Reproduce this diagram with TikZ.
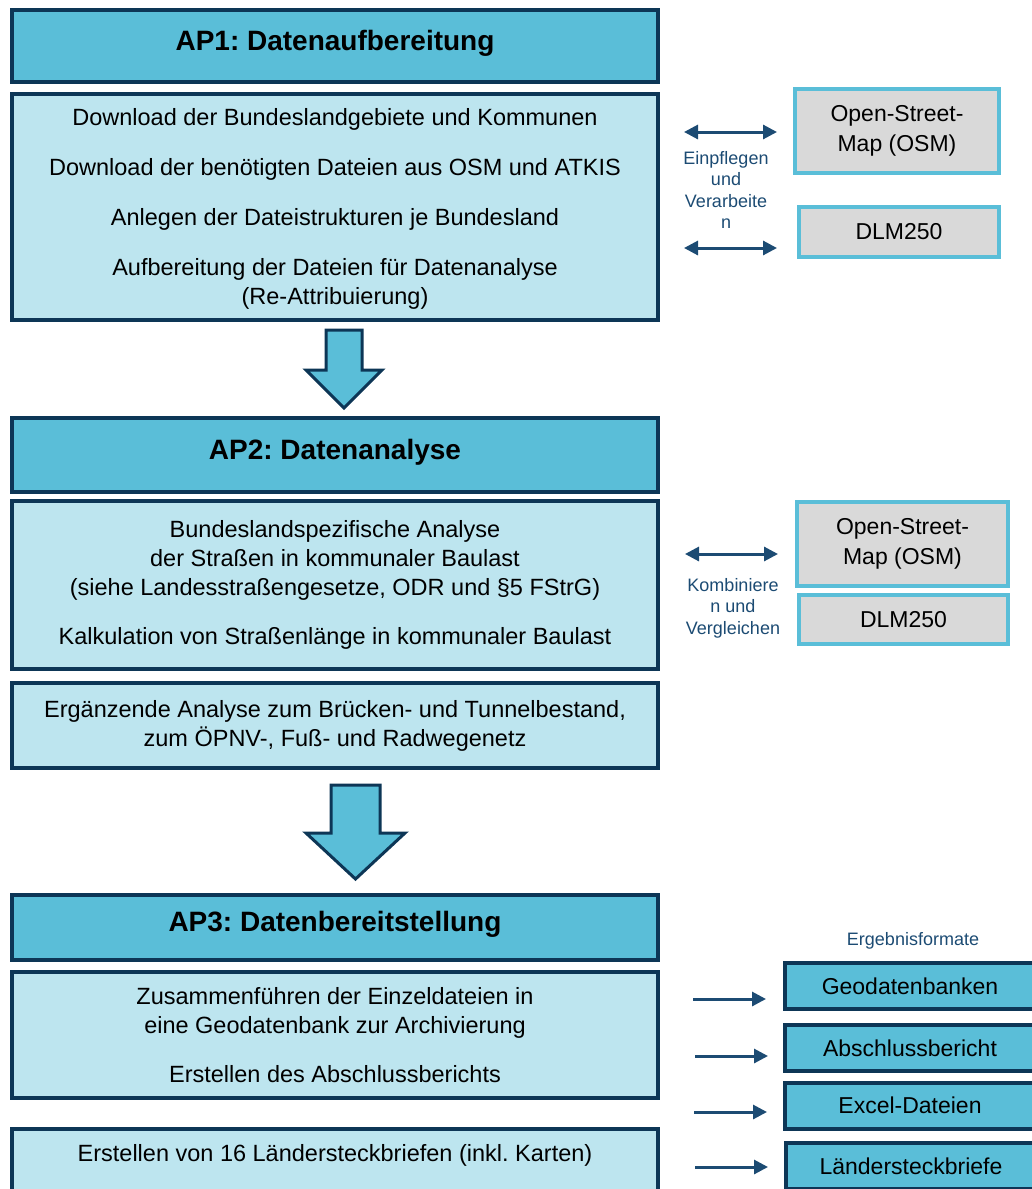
\documentclass[tikz,border=0pt]{standalone}
\usepackage{fontspec}
\setmainfont{Liberation Sans}
\usetikzlibrary{arrows.meta}
\definecolor{navy}{HTML}{0D3656}
\definecolor{pfeilblau}{HTML}{1C4B73}
\definecolor{tuerkis}{HTML}{5ABED8}
\definecolor{hellblau}{HTML}{BDE5EF}
\definecolor{grau}{HTML}{D9D9D9}
\frenchspacing
\tikzset{
  kopf/.style={draw=navy, line width=4pt, fill=tuerkis, inner sep=0pt, minimum width=646pt,
    text height=20pt, text depth=12pt, font=\bfseries\fontsize{28}{34}\selectfont},
  inhalt/.style={draw=navy, line width=4pt, fill=hellblau, inner sep=0pt, minimum width=646pt,
    align=center, font=\fontsize{23.5}{29}\selectfont},
  quelle/.style={draw=tuerkis, line width=4pt, fill=grau, inner sep=0pt, align=center,
    font=\fontsize{23}{30}\selectfont},
  format/.style={draw=navy, line width=4pt, fill=tuerkis, inner sep=0pt, minimum width=250pt,
    minimum height=46pt, font=\fontsize{23}{28}\selectfont},
  hinweis/.style={text=pfeilblau, align=center, font=\fontsize{18}{21.5}\selectfont},
  doppel/.style={{Triangle[length=14pt,width=14pt]}-{Triangle[length=14pt,width=14pt]},
    line width=3pt, draw=pfeilblau},
  einfach/.style={-{Triangle[length=14pt,width=14pt]}, line width=3pt, draw=pfeilblau},
  grosspfeil/.style={fill=tuerkis, draw=navy, line width=3pt, line join=miter},
}
\begin{document}
\begin{tikzpicture}[x=1pt, y=-1pt]
    \useasboundingbox (0, 0) rectangle (1032, 1189) ;
    \clip (0, 0) rectangle (1032, 1189) ;
  %--- AP1
    \node[kopf, minimum height=72pt] (ap1) at (335, 46) {AP1: Datenaufbereitung} ;
    \node[inhalt, minimum height=226pt] (ap1text) at (335, 207)
      {\rule{0pt}{21pt}Download der Bundeslandgebiete und Kommunen\\[21pt]
       Download der benötigten Dateien aus OSM und ATKIS\\[21pt]
       Anlegen der Dateistrukturen je Bundesland\\[21pt]
       Aufbereitung der Dateien für Datenanalyse\\
       (Re-Attribuierung)} ;
    \node[quelle, minimum width=204pt, minimum height=84pt] (osm1) at (897, 131)
      {Open-Street-\\Map (OSM)} ;
    \node[quelle, minimum width=200pt, minimum height=50pt] (dlm1) at (899, 232) {DLM250} ;
    \node[hinweis] (einpflegen) at (726, 190) {Einpflegen\\und\\Verarbeite\\n} ;
    \coordinate (e1l) at (684, 132) ;
    \coordinate (e1r) at (777, 132) ;
    \coordinate (e2l) at (684, 248) ;
    \coordinate (e2r) at (777, 248) ;
    \draw[doppel] (e1l) -- (e1r) ;
    \draw[doppel] (e2l) -- (e2r) ;
    \draw[grosspfeil] (326, 330) -- (362, 330) -- (362, 370) -- (382, 370)
      -- (344, 408) -- (306, 370) -- (326, 370) -- cycle ;
  %--- AP2
    \node[kopf, minimum height=74pt] (ap2) at (335, 455) {AP2: Datenanalyse} ;
    \node[inhalt, minimum height=168pt] (ap2text) at (335, 585)
      {Bundeslandspezifische Analyse\\
       der Straßen in kommunaler Baulast\\
       (siehe Landesstraßengesetze, ODR und §5 FStrG)\\[20pt]
       Kalkulation von Straßenlänge in kommunaler Baulast} ;
    \node[inhalt, minimum height=85pt] (ergaenzung) at (335, 725.5)
      {Ergänzende Analyse zum Brücken- und Tunnelbestand,\\
       zum ÖPNV-, Fuß- und Radwegenetz} ;
    \node[quelle, minimum width=211pt, minimum height=84pt] (osm2) at (902.5, 544)
      {Open-Street-\\Map (OSM)} ;
    \node[quelle, minimum width=209pt, minimum height=49pt] (dlm2) at (903.5, 619.5) {DLM250} ;
    \node[hinweis] (kombinieren) at (733, 608) {Kombiniere\\n und\\Vergleichen} ;
    \coordinate (k1l) at (685, 554) ;
    \coordinate (k1r) at (778, 554) ;
    \draw[doppel] (k1l) -- (k1r) ;
    \draw[grosspfeil] (331, 785) -- (380, 785) -- (380, 833) -- (405, 833)
      -- (355.5, 879) -- (306, 833) -- (331, 833) -- cycle ;
  %--- AP3
    \node[kopf, minimum height=65pt] (ap3) at (335, 927.5) {AP3: Datenbereitstellung} ;
    \node[inhalt, minimum height=126pt] (ap3text) at (335, 1035)
      {Zusammenführen der Einzeldateien in\\
       eine Geodatenbank zur Archivierung\\[20pt]
       Erstellen des Abschlussberichts} ;
    \node[inhalt, minimum height=84pt, text height=17pt, text depth=37pt] (laender) at (335, 1171)
      {Erstellen von 16 Ländersteckbriefen (inkl. Karten)} ;
    \node[hinweis] (ergebnis) at (913, 941) {Ergebnisformate} ;
    \node[format] (geo) at (910, 986) {Geodatenbanken} ;
    \node[format] (bericht) at (910, 1048) {Abschlussbericht} ;
    \node[format] (excel) at (910, 1105.5) {Excel-Dateien} ;
    \node[format] (steckbrief) at (911, 1166) {Ländersteckbriefe} ;
    \coordinate (f1) at (693, 999) ;
    \coordinate (f1e) at (766, 999) ;
    \coordinate (f2) at (695, 1056) ;
    \coordinate (f2e) at (768, 1056) ;
    \coordinate (f3) at (694, 1112) ;
    \coordinate (f3e) at (767, 1112) ;
    \coordinate (f4) at (695, 1167) ;
    \coordinate (f4e) at (768, 1167) ;
    \draw[einfach] (f1) -- (f1e) ;
    \draw[einfach] (f2) -- (f2e) ;
    \draw[einfach] (f3) -- (f3e) ;
    \draw[einfach] (f4) -- (f4e) ;
\end{tikzpicture}
\end{document}
